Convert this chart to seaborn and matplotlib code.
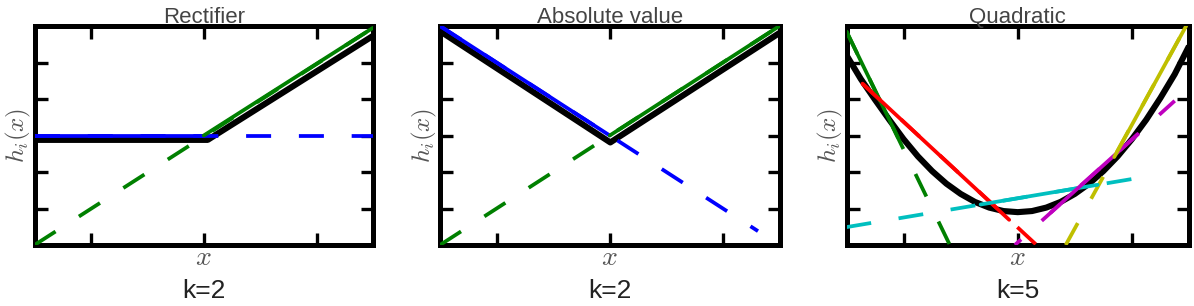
import matplotlib
matplotlib.use("Agg")
import matplotlib.pyplot as plt
import seaborn as sns

# ---------------- data ----------------
titles = ["Rectifier", "Absolute value", "Quadratic"]
k_labels = ["k=2", "k=2", "k=5"]
x_ticks = [-2, 0, 2]
y_ticks = [-2, -1, 0, 1, 2]

# Rectifier
rect_black_x = [-3.0, 0.07, 3.0]
rect_black_y = [-0.12, -0.12, 2.73]
rect_blue_full_x = [-3.0, 3.0]
rect_blue_full_y = [0.0, 0.0]
rect_blue_solid_x = [-3.0, 0.0]
rect_blue_solid_y = [0.0, 0.0]
rect_green_full_x = [-3.0, 3.0]
rect_green_full_y = [-3.0, 2.95]
rect_green_solid_x = [0.0, 3.0]
rect_green_solid_y = [0.0, 2.95]

# Absolute value
abs_black_x = [-3.0, 0.01, 3.0]
abs_black_y = [2.86, -0.19, 2.81]
abs_blue_full_x = [-3.0, 2.62]
abs_blue_full_y = [3.0, -2.62]
abs_blue_solid_x = [-3.0, 0.0]
abs_blue_solid_y = [3.0, 0.0]
abs_green_full_x = [-3.0, 3.0]
abs_green_full_y = [-3.0, 3.0]
abs_green_solid_x = [0.0, 3.0]
abs_green_solid_y = [0.0, 3.0]

# Quadratic
quad_black_x = [-3.0, -2.75, -2.5, -2.25, -2.0, -1.75, -1.5, -1.25, -1.0, -0.75, -0.5, -0.25,
                0.0, 0.25, 0.5, 0.75, 1.0, 1.25, 1.5, 1.75, 2.0, 2.25, 2.5, 2.75, 3.0]
quad_black_y = [2.2, 1.55, 0.98, 0.43, -0.1, -0.57, -0.975, -1.32, -1.6, -1.82, -1.975, -2.07,
                -2.1, -2.07, -1.975, -1.82, -1.6, -1.32, -0.975, -0.57, -0.1, 0.43, 1.03, 1.68, 2.45]
quad_green_full_x = [-3.0, -1.19]
quad_green_full_y = [2.85, -3.0]
quad_green_solid_x = [-3.0, -2.1]
quad_green_solid_y = [2.85, -0.05]
quad_red_full_x = [-2.72, 0.33]
quad_red_full_y = [1.42, -3.0]
quad_red_solid_x = [-2.72, -0.15]
quad_red_solid_y = [1.42, -2.31]
quad_cyan_full_x = [-3.0, 2.39]
quad_cyan_full_y = [-2.51, -1.09]
quad_cyan_solid_x = [-0.65, 1.40]
quad_cyan_solid_y = [-1.89, -1.35]
quad_mag_full_x = [-0.05, 2.75]
quad_mag_full_y = [-3.0, 0.95]
quad_mag_solid_x = [0.58, 2.10]
quad_mag_solid_y = [-2.11, 0.03]
quad_yel_full_x = [0.84, 2.95]
quad_yel_full_y = [-3.0, 3.0]
quad_yel_solid_x = [1.69, 2.95]
quad_yel_solid_y = [-0.59, 3.0]

C_BLUE = "#0000ff"
C_GREEN = "#008000"
C_RED = "#ff0000"
C_CYAN = "#00bfbf"
C_MAG = "#bf00bf"
C_YEL = "#bfbf00"

# (colour, full x, full y, solid x, solid y, dash offset in points)
panels = [
    dict(black=(rect_black_x, rect_black_y),
         lines=[(C_BLUE, rect_blue_full_x, rect_blue_full_y, rect_blue_solid_x, rect_blue_solid_y, 0),
                (C_GREEN, rect_green_full_x, rect_green_full_y, rect_green_solid_x, rect_green_solid_y, 0)]),
    dict(black=(abs_black_x, abs_black_y),
         lines=[(C_BLUE, abs_blue_full_x, abs_blue_full_y, abs_blue_solid_x, abs_blue_solid_y, 0),
                (C_GREEN, abs_green_full_x, abs_green_full_y, abs_green_solid_x, abs_green_solid_y, 0)]),
    dict(black=(quad_black_x, quad_black_y),
         lines=[(C_GREEN, quad_green_full_x, quad_green_full_y, quad_green_solid_x, quad_green_solid_y, 0),
                (C_RED, quad_red_full_x, quad_red_full_y, quad_red_solid_x, quad_red_solid_y, 0),
                (C_CYAN, quad_cyan_full_x, quad_cyan_full_y, quad_cyan_solid_x, quad_cyan_solid_y, 0),
                (C_MAG, quad_mag_full_x, quad_mag_full_y, quad_mag_solid_x, quad_mag_solid_y, 12),
                (C_YEL, quad_yel_full_x, quad_yel_full_y, quad_yel_solid_x, quad_yel_solid_y, 0)]),
]

# ---------------- style ----------------
sns.set_theme(style="white")
plt.rcParams["font.family"] = ["Liberation Sans", "DejaVu Sans"]
plt.rcParams["mathtext.fontset"] = "cm"
plt.rcParams["lines.scale_dashes"] = False

DASH_ON, DASH_OFF = 18, 20
LW_C = 2.7

fig = plt.figure(figsize=(11.94, 3.06), dpi=100)
W, H = 1194.0, 306.0
boxes = [(34.5, 373.0), (440.0, 779.5), (846.5, 1189.0)]
top_px, bot_px = 26.0, 245.0

for i, (p, (l, r)) in enumerate(zip(panels, boxes)):
    ax = fig.add_axes([l / W, (H - bot_px) / H, (r - l) / W, (bot_px - top_px) / H])
    bx, by = p["black"]
    sns.lineplot(x=bx, y=by, ax=ax, color="black", lw=4.4, sort=False,
                 estimator=None, zorder=2, solid_joinstyle="round", solid_capstyle="butt")
    for c, fx, fy, sx, sy, off in p["lines"]:
        sns.lineplot(x=fx, y=fy, ax=ax, color=c, lw=LW_C, sort=False, estimator=None,
                     linestyle=(off, (DASH_ON, DASH_OFF)), zorder=3)
        sns.lineplot(x=sx, y=sy, ax=ax, color=c, lw=LW_C, sort=False, estimator=None,
                     zorder=4)
    ax.set_xlim(-3, 3)
    ax.set_ylim(-3, 3)
    ax.set_xticks(x_ticks)
    ax.set_yticks(y_ticks)
    ax.tick_params(direction="in", length=9, width=2.4, color="black",
                   top=True, right=True, bottom=True, left=True,
                   labelbottom=False, labelleft=False)
    for s in ax.spines.values():
        s.set_visible(True)
        s.set_linewidth(3.6)
        s.set_color("black")
    ax.set_facecolor("white")
    ax.set_title(titles[i], fontsize=16, color="#444444", pad=2)
    ax.set_xlabel("$x$", fontsize=20, color="#555555", labelpad=0)
    ax.set_ylabel("$h_i(x)$", fontsize=18, color="#555555", labelpad=1)
    ax.text(0.5, -0.21, k_labels[i], transform=ax.transAxes, ha="center", va="center",
            fontsize=19, color="#222222")

fig.savefig("out.png", dpi=100, facecolor="white")
